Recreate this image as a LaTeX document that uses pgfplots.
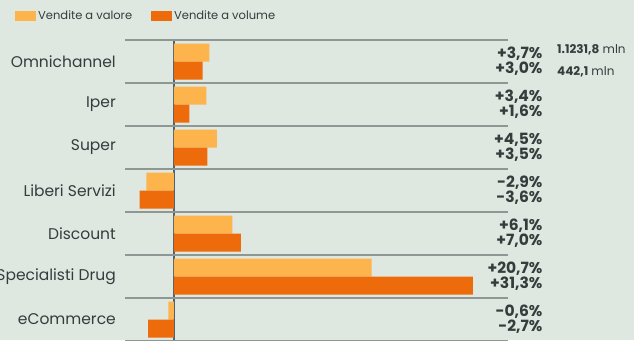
\documentclass[border=0pt]{standalone}
\usepackage{pgfplots}
\pgfplotsset{compat=1.18}
\usepackage{pgfplotstable}
\usepackage{fontspec}
\setmainfont{Poppins}
\definecolor{bg}{HTML}{DFE7E1}
\definecolor{valore}{HTML}{FDB44C}
\definecolor{volume}{HTML}{EE6B0C}
\definecolor{txt}{HTML}{363C3C}
\definecolor{gridc}{HTML}{8E9794}
\definecolor{zeroc}{HTML}{51616A}
\pgfplotstableread{
idx valore volume
0 3.7 3.0
1 3.4 1.6
2 4.5 3.5
3 -2.9 -3.6
4 6.1 7.0
5 20.7 31.3
6 -0.6 -2.7
}\data
\begin{document}
\begin{tikzpicture}
\fill[bg] (0,0) rectangle (634pt,340pt);
\useasboundingbox (0,0) rectangle (634pt,340pt);
\begin{axis}[
  at={(125pt,-1pt)}, anchor=south west,
  scale only axis, width=383pt, height=301pt,
  xmin=-5.13, xmax=34.97, ymin=-0.5, ymax=6.5,
  y dir=reverse,
  clip=false,
  axis line style={draw=none},
  major tick length=0pt, minor tick length=0pt,
  xtick={0}, xticklabels={},
  xmajorgrids, x grid style={draw=zeroc, line width=1.1pt},
  ytick={0,...,6},
  yticklabels={Omnichannel,Iper,Super,Liberi Servizi,Discount,Specialisti Drug,eCommerce},
  minor ytick={-0.5,0.5,...,6.5},
  yminorgrids, y grid style={draw=gridc, line width=1.3pt},
  yticklabel style={font=\fontsize{15.5}{16}\selectfont, text=txt, inner sep=0pt, xshift=-9pt},
  legend columns=2,
  legend style={draw=none, fill=none, at={(axis description cs:-0.295,1.0797)}, anchor=west,
    font=\fontsize{11.5}{12}\selectfont, text=txt,
    /tikz/every even column/.append style={column sep=17pt}},
  legend image code/.code={\fill[#1] (0pt,-5pt) rectangle (21pt,5pt);},
  every node near coord/.append style={anchor=east, inner sep=0pt, text=txt,
    font=\bfseries\fontsize{15.5}{16}\selectfont},
  /pgf/number format/.cd, fixed, fixed zerofill, precision=1, showpos, use comma, assume math mode=true,
]
\addplot[xbar, bar width=18pt, bar shift=9pt, fill=valore, draw=none] table[x=valore, y=idx]{\data};
\addlegendentry{Vendite a valore}
\addplot[xbar, bar width=18pt, bar shift=-9pt, fill=volume, draw=none] table[x=volume, y=idx]{\data};
\addlegendentry{Vendite a volume}
\addplot[forget plot, draw=none, mark=none, point meta=\thisrow{valore},
  nodes near coords={\pgfmathprintnumber{\pgfplotspointmeta}\%}]
  table[x expr=38.6, y expr=\thisrow{idx}-0.19]{\data};
\addplot[forget plot, draw=none, mark=none, point meta=\thisrow{volume},
  nodes near coords={\pgfmathprintnumber{\pgfplotspointmeta}\%}]
  table[x expr=38.6, y expr=\thisrow{idx}+0.17]{\data};
\end{axis}
\node[anchor=west, text=txt, font=\fontsize{12}{12}\selectfont, inner sep=0pt] at (557pt,290pt) {\textbf{1.1231,8} mln};
\node[anchor=west, text=txt, font=\fontsize{12}{12}\selectfont, inner sep=0pt] at (557pt,268pt) {\textbf{442,1} mln};
\end{tikzpicture}
\end{document}
